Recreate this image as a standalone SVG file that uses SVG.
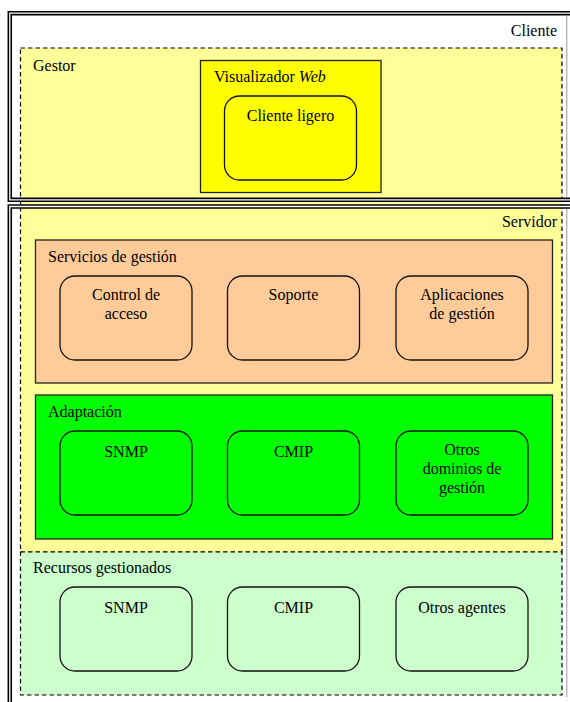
<svg xmlns="http://www.w3.org/2000/svg" width="570" height="702" viewBox="0 0 570 702">
<defs>
<rect id="rbox" width="132" height="84" rx="15" ry="15" stroke="#111" stroke-width="1.3"/>
</defs>
<rect width="570" height="702" fill="#fff"/>
<g id="gestor">
<rect x="20.5" y="48" width="541.5" height="504" fill="#FFFF99" stroke="#000" stroke-width="1.2" stroke-dasharray="4.5,3"/>
<text x="33" y="71" font-family="Times New Roman, Liberation Serif, serif" font-size="16">Gestor</text>
</g>
<g id="recursos">
<rect x="20.5" y="552" width="541.5" height="143" fill="#CCFFCC" stroke="#000" stroke-width="1.2" stroke-dasharray="4.5,3"/>
<text x="33" y="573" font-family="Times New Roman, Liberation Serif, serif" font-size="16">Recursos gestionados</text>
</g>
<g id="cliente">
<path d="M571 13.2 H9.8 V199.8 H571" fill="none" stroke="#000" stroke-width="4.5"/>
<path d="M571 13.2 H9.8 V199.8 H571" fill="none" stroke="#fff" stroke-width="1.3"/>
<line x1="566.8" y1="15" x2="566.8" y2="198" stroke="#999" stroke-width="1"/>
<text x="557" y="36" text-anchor="end" font-family="Times New Roman, Liberation Serif, serif" font-size="16">Cliente</text>
</g>
<g id="servidor">
<path d="M571 206.5 H9.8 V703" fill="none" stroke="#000" stroke-width="4.5"/>
<path d="M571 206.5 H9.8 V703" fill="none" stroke="#fff" stroke-width="1.3"/>
<line x1="566.8" y1="209" x2="566.8" y2="697" stroke="#999" stroke-width="1"/>
<text x="557" y="227" text-anchor="end" font-family="Times New Roman, Liberation Serif, serif" font-size="16">Servidor</text>
</g>
<g id="visualizador">
<rect x="200.5" y="60.5" width="180.5" height="132" fill="#FFFF00" stroke="#222" stroke-width="1.3"/>
<text x="214" y="82" font-family="Times New Roman, Liberation Serif, serif" font-size="16">Visualizador <tspan font-style="italic">Web</tspan></text>
</g>
<g id="cliente-ligero">
<use href="#rbox" x="224.5" y="96" fill="#FFFF00"/>
<text x="290.5" y="121" text-anchor="middle" font-family="Times New Roman, Liberation Serif, serif" font-size="16">Cliente ligero</text>
</g>
<g id="servicios">
<rect x="35.5" y="240" width="517" height="143" fill="#FFCC99" stroke="#222" stroke-width="1.3"/>
<text x="48" y="262" font-family="Times New Roman, Liberation Serif, serif" font-size="16">Servicios de gestión</text>
</g>
<g id="control-acceso">
<use href="#rbox" x="60" y="276" fill="#FFCC99"/>
<text x="126" y="300" text-anchor="middle" font-family="Times New Roman, Liberation Serif, serif" font-size="16">Control de</text>
<text x="126" y="319" text-anchor="middle" font-family="Times New Roman, Liberation Serif, serif" font-size="16">acceso</text>
</g>
<g id="soporte">
<use href="#rbox" x="227.5" y="276" fill="#FFCC99"/>
<text x="293.5" y="300" text-anchor="middle" font-family="Times New Roman, Liberation Serif, serif" font-size="16">Soporte</text>
</g>
<g id="aplicaciones">
<use href="#rbox" x="396" y="276" fill="#FFCC99"/>
<text x="462" y="300" text-anchor="middle" font-family="Times New Roman, Liberation Serif, serif" font-size="16">Aplicaciones</text>
<text x="462" y="319" text-anchor="middle" font-family="Times New Roman, Liberation Serif, serif" font-size="16">de gestión</text>
</g>
<g id="adaptacion">
<rect x="35.5" y="395" width="517" height="144" fill="#00FF00" stroke="#222" stroke-width="1.3"/>
<text x="48" y="417" font-family="Times New Roman, Liberation Serif, serif" font-size="16">Adaptación</text>
</g>
<g id="snmp-adapt">
<use href="#rbox" x="60" y="431" fill="#00FF00"/>
<text x="126" y="457" text-anchor="middle" font-family="Times New Roman, Liberation Serif, serif" font-size="16">SNMP</text>
</g>
<g id="cmip-adapt">
<use href="#rbox" x="227.5" y="431" fill="#00FF00"/>
<text x="293.5" y="457" text-anchor="middle" font-family="Times New Roman, Liberation Serif, serif" font-size="16">CMIP</text>
</g>
<g id="otros-dominios">
<use href="#rbox" x="396" y="431" fill="#00FF00"/>
<text x="462" y="455" text-anchor="middle" font-family="Times New Roman, Liberation Serif, serif" font-size="16">Otros</text>
<text x="462" y="474" text-anchor="middle" font-family="Times New Roman, Liberation Serif, serif" font-size="16">dominios de</text>
<text x="462" y="493" text-anchor="middle" font-family="Times New Roman, Liberation Serif, serif" font-size="16">gestión</text>
</g>
<g id="snmp-rec">
<use href="#rbox" x="60" y="587" fill="#CCFFCC"/>
<text x="126" y="613" text-anchor="middle" font-family="Times New Roman, Liberation Serif, serif" font-size="16">SNMP</text>
</g>
<g id="cmip-rec">
<use href="#rbox" x="227.5" y="587" fill="#CCFFCC"/>
<text x="293.5" y="613" text-anchor="middle" font-family="Times New Roman, Liberation Serif, serif" font-size="16">CMIP</text>
</g>
<g id="otros-agentes">
<use href="#rbox" x="396" y="587" fill="#CCFFCC"/>
<text x="462" y="613" text-anchor="middle" font-family="Times New Roman, Liberation Serif, serif" font-size="16">Otros agentes</text>
</g>
<g id="connectors"/>
</svg>
